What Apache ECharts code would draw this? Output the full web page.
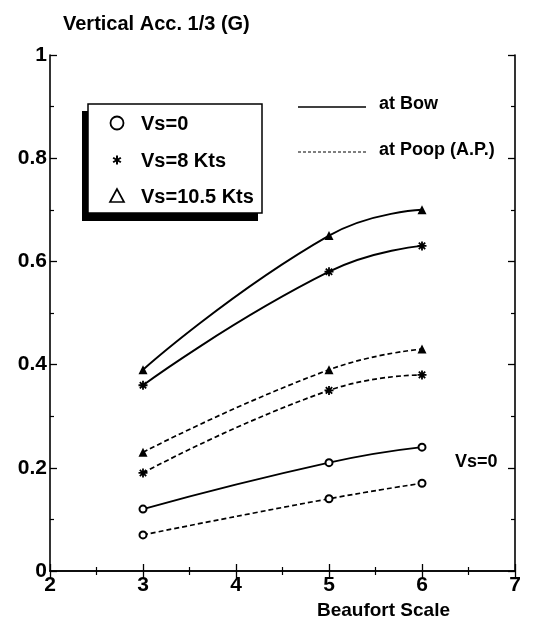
<!DOCTYPE html>
<html>
<head>
<meta charset="utf-8">
<script src="https://cdn.jsdelivr.net/npm/echarts@6/dist/echarts.min.js"></script>
<style>
html,body{margin:0;padding:0;background:#fff;}
#chart{width:537px;height:627px;}
</style>
</head>
<body>
<div id="chart"></div>
<script>
// ---- data ----
const beaufort = [3, 5, 6];
const bowVs0   = [0.12, 0.21, 0.24];
const bowVs8   = [0.36, 0.58, 0.63];
const bowVs105 = [0.39, 0.65, 0.70];
const poopVs0   = [0.07, 0.14, 0.17];
const poopVs8   = [0.19, 0.35, 0.38];
const poopVs105 = [0.23, 0.39, 0.43];
const xTicks = [2, 3, 4, 5, 6, 7];
const yTicks = [0, 0.2, 0.4, 0.6, 0.8, 1];

const FONT = '"Liberation Sans", Arial, sans-serif';

// asterisk marker (8 arms)
function asteriskPath() {
  const L = 10, w = 2.0;
  let p = '';
  [0, 45, 90, 135].forEach(function (deg) {
    const t = deg * Math.PI / 180;
    const dx = Math.cos(t), dy = Math.sin(t);
    const nx = -dy, ny = dx;
    const pts = [
      [ dx * L + nx * w,  dy * L + ny * w],
      [ dx * L - nx * w,  dy * L - ny * w],
      [-dx * L - nx * w, -dy * L - ny * w],
      [-dx * L + nx * w, -dy * L + ny * w]
    ];
    p += 'M' + pts.map(function (q) { return (q[0] + L).toFixed(2) + ' ' + (q[1] + L).toFixed(2); }).join(' L') + ' Z ';
  });
  return 'path://' + p;
}
const STAR = asteriskPath();

function pairs(ys) { return beaufort.map(function (x, i) { return [x, ys[i]]; }); }

function mkSeries(name, ys, symbol, size, dashed) {
  const isCircle = symbol === 'emptyCircle';
  return {
    name: name,
    type: 'line',
    data: pairs(ys),
    smooth: 0.5,
    symbol: symbol,
    symbolSize: size,
    showSymbol: true,
    xAxisIndex: 0,
    yAxisIndex: 0,
    lineStyle: { color: '#000', width: dashed ? 1.7 : 1.9, type: dashed ? [5, 3] : 'solid' },
    itemStyle: { color: '#000', borderColor: '#000', borderWidth: isCircle ? 1.7 : 0 },
    emphasis: { disabled: true },
    animation: false,
    z: 3
  };
}

// legend asterisk from lines
function legendStar(cx, cy, r) {
  const els = [];
  [0, 60, 120].forEach(function (deg) {
    const t = (deg + 90) * Math.PI / 180;
    els.push({ type: 'line', z: 12, shape: { x1: cx - r * Math.cos(t), y1: cy - r * Math.sin(t), x2: cx + r * Math.cos(t), y2: cy + r * Math.sin(t) }, style: { stroke: '#000', lineWidth: 2 } });
  });
  return els;
}

const chart = echarts.init(document.getElementById('chart'), null, { renderer: 'canvas' });

const axisLineStyle = { show: true, lineStyle: { color: '#000', width: 1.6 } };
const labelStyle = { color: '#000', fontFamily: FONT, fontWeight: 'bold', fontSize: 21 };
function txt(x, y, s, size) {
  return { type: 'text', z: 12, x: x, y: y, style: { text: s, font: 'bold ' + size + 'px ' + FONT, fill: '#000', textAlign: 'left', textVerticalAlign: 'middle', align: 'left', verticalAlign: 'middle' } };
}

const option = {
  backgroundColor: '#fff',
  animation: false,
  title: {
    text: 'Vertical Acc. 1/3 (G)',
    left: 58, top: 9,
    textStyle: { color: '#000', fontFamily: FONT, fontWeight: 'bold', fontSize: 20 }
  },
  grid: { left: 50, right: 22, top: 55, bottom: 56, containLabel: false },
  xAxis: [{
    type: 'value', position: 'bottom', min: 2, max: 7, interval: 1,
    axisLine: axisLineStyle,
    axisTick: { show: true, inside: true, length: 7, lineStyle: { color: '#000', width: 1.3 } },
    minorTick: { show: true, splitNumber: 2, length: 4, lineStyle: { color: '#000', width: 1.2 } },
    splitLine: { show: false },
    axisLabel: Object.assign({ margin: 4 }, labelStyle),
    name: 'Beaufort Scale', nameLocation: 'middle', nameGap: 30,
    nameTextStyle: { color: '#000', fontFamily: FONT, fontWeight: 'bold', fontSize: 19, padding: [0, 0, 0, 202] }
  }, {
    type: 'value', position: 'top', min: 2, max: 7, interval: 1,
    axisLine: axisLineStyle,
    axisTick: { show: true, inside: true, length: 7, lineStyle: { color: '#000', width: 1.3 } },
    minorTick: { show: true, splitNumber: 2, length: 4, lineStyle: { color: '#000', width: 1.2 } },
    splitLine: { show: false },
    axisLabel: { show: false }
  }],
  yAxis: [{
    type: 'value', position: 'left', min: 0, max: 1, interval: 0.2,
    axisLine: axisLineStyle,
    axisTick: { show: true, inside: true, length: 7, lineStyle: { color: '#000', width: 1.3 } },
    minorTick: { show: true, splitNumber: 2, length: 4, lineStyle: { color: '#000', width: 1.2 } },
    splitLine: { show: false },
    axisLabel: Object.assign({ margin: 3 }, labelStyle)
  }, {
    type: 'value', position: 'right', min: 0, max: 1, interval: 0.2,
    axisLine: axisLineStyle,
    axisTick: { show: true, inside: true, length: 7, lineStyle: { color: '#000', width: 1.3 } },
    minorTick: { show: true, splitNumber: 2, length: 4, lineStyle: { color: '#000', width: 1.2 } },
    splitLine: { show: false },
    axisLabel: { show: false }
  }],
  series: [
    mkSeries('Bow Vs=0', bowVs0, 'emptyCircle', 7, false),
    mkSeries('Bow Vs=8 Kts', bowVs8, STAR, 9, false),
    mkSeries('Bow Vs=10.5 Kts', bowVs105, 'triangle', 9, false),
    mkSeries('Poop Vs=0', poopVs0, 'emptyCircle', 7, true),
    mkSeries('Poop Vs=8 Kts', poopVs8, STAR, 9, true),
    mkSeries('Poop Vs=10.5 Kts', poopVs105, 'triangle', 9, true)
  ],
  graphic: [
    // legend box shadow + box
    { type: 'rect', z: 10, shape: { x: 82, y: 111, width: 176, height: 110 }, style: { fill: '#000' } },
    { type: 'rect', z: 11, shape: { x: 88, y: 104, width: 174, height: 109 }, style: { fill: '#fff', stroke: '#000', lineWidth: 1.5 } },
    { type: 'circle', z: 12, shape: { cx: 117, cy: 123, r: 6.5 }, style: { fill: '#fff', stroke: '#000', lineWidth: 1.8 } },
    { type: 'polygon', z: 12, shape: { points: [[117, 189], [110, 202], [124, 202]] }, style: { fill: '#fff', stroke: '#000', lineWidth: 1.7 } },
    txt(141, 124, 'Vs=0', 20),
    txt(141, 161, 'Vs=8 Kts', 20),
    txt(141, 197, 'Vs=10.5 Kts', 20),
    // line-style legend
    { type: 'line', z: 12, shape: { x1: 298, y1: 107, x2: 366, y2: 107 }, style: { stroke: '#000', lineWidth: 1.6 } },
    txt(379, 104, 'at Bow', 18),
    { type: 'line', z: 12, shape: { x1: 298, y1: 152, x2: 366, y2: 152 }, style: { stroke: '#000', lineWidth: 1.2, lineDash: [3, 2] } },
    txt(379, 150, 'at Poop (A.P.)', 18),
    // annotation
    txt(455, 462, 'Vs=0', 18)
  ].concat(legendStar(117, 160, 4.5))
};
chart.setOption(option);
</script>
</body>
</html>
